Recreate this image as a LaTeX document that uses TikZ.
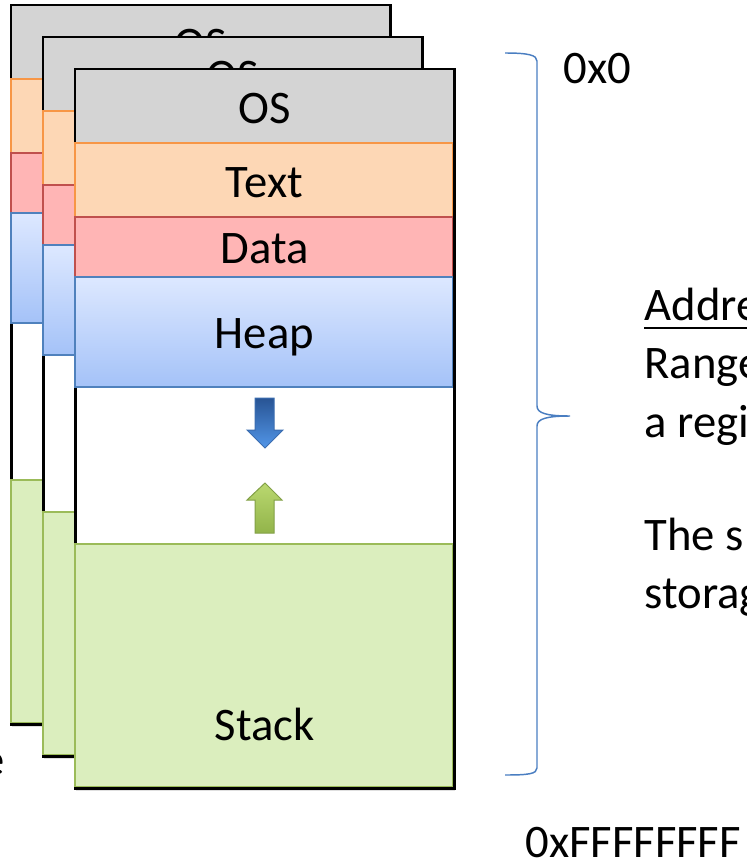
\documentclass[tikz,border=0pt]{standalone}
\usepackage{fontspec}
\setmainfont{Carlito}
\usetikzlibrary{shadows}

\tikzset{every picture/.style={line width=0.75pt}}

\begin{document}
\begin{tikzpicture}[x=0.75pt,y=0.75pt,yscale=-1,xscale=1,
	memframe/.style={draw={rgb, 255:red, 0; green, 0; blue, 0}, line width=2.25pt, fill=white, drop shadow={shadow xshift=0.6pt, shadow yshift=-2.2pt, opacity=0.25}},
	osband/.style={fill={rgb, 255:red, 212; green, 212; blue, 212}},
	textband/.style={draw={rgb, 255:red, 247; green, 150; blue, 70}, fill={rgb, 255:red, 253; green, 215; blue, 181}, line width=1.1pt},
	databand/.style={draw={rgb, 255:red, 192; green, 80; blue, 77}, fill={rgb, 255:red, 255; green, 181; blue, 181}, line width=1.1pt},
	heapband/.style={draw={rgb, 255:red, 79; green, 129; blue, 189}, top color={rgb, 255:red, 221; green, 232; blue, 255}, bottom color={rgb, 255:red, 164; green, 194; blue, 248}, line width=1.1pt},
	stackband/.style={draw={rgb, 255:red, 155; green, 187; blue, 89}, fill={rgb, 255:red, 219; green, 238; blue, 190}, line width=1.1pt},
	seglabel/.style={font=\fontsize{35}{42}\selectfont, anchor=base, inner sep=0pt},
	sidelabel/.style={font=\fontsize{35}{42}\selectfont, anchor=base west, inner sep=0pt}
	]
	\useasboundingbox (0,0) rectangle (746,860);

	%Shape: Rectangle [back frame]
	\draw  [memframe] (11,5) rectangle (390,724) ;
	%Shape: Rectangle
	\fill  [osband] (12.2,6.2) rectangle (388.8,79) ;
	%Shape: Rectangle
	\draw  [textband] (11,79) rectangle (388.5,153) ;
	%Shape: Rectangle
	\draw  [databand] (11,153) rectangle (388.5,213) ;
	%Shape: Rectangle
	\draw  [heapband] (11,213) rectangle (388.5,323) ;
	%Shape: Rectangle
	\draw  [stackband] (11,480) rectangle (388.5,722.5) ;
	% Text Node
	\draw (200.5,59) node [seglabel] (osA) {OS};

	%Shape: Rectangle [middle frame]
	\draw  [memframe] (43,37) rectangle (422,756) ;
	%Shape: Rectangle
	\fill  [osband] (44.2,38.2) rectangle (420.8,111) ;
	%Shape: Rectangle
	\draw  [textband] (43,111) rectangle (420.5,185) ;
	%Shape: Rectangle
	\draw  [databand] (43,185) rectangle (420.5,245) ;
	%Shape: Rectangle
	\draw  [heapband] (43,245) rectangle (420.5,355) ;
	%Shape: Rectangle
	\draw  [stackband] (43,512) rectangle (420.5,754.5) ;
	% Text Node
	\draw (232.5,91) node [seglabel] (osB) {OS};

	%Shape: Rectangle [front frame]
	\draw  [memframe] (75,69) rectangle (454,788) ;
	%Shape: Rectangle
	\fill  [osband] (76.2,70.2) rectangle (452.8,143) ;
	%Shape: Rectangle
	\draw  [textband] (75,143) rectangle (452.5,217) ;
	%Shape: Rectangle
	\draw  [databand] (75,217) rectangle (452.5,277) ;
	%Shape: Rectangle
	\draw  [heapband] (75,277) rectangle (452.5,387) ;
	%Shape: Rectangle
	\draw  [stackband] (75,544) rectangle (452.5,786.5) ;

	%Shape: Down Arrow
	\draw  [draw={rgb, 255:red, 59; green, 109; blue, 176}, top color={rgb, 255:red, 40; green, 84; blue, 148}, bottom color={rgb, 255:red, 82; green, 150; blue, 232}] (255,398) -- (274,398) -- (274,430) -- (283,430) -- (265,448) -- (247,430) -- (255,430) -- cycle ;
	%Shape: Up Arrow
	\draw  [draw={rgb, 255:red, 130; green, 160; blue, 70}, top color={rgb, 255:red, 186; green, 216; blue, 112}, bottom color={rgb, 255:red, 146; green, 180; blue, 74}] (255,533) -- (274,533) -- (274,500) -- (282,500) -- (265,483) -- (247,500) -- (255,500) -- cycle ;

	% Text Node
	\draw (264.5,123) node [seglabel] (osC) {OS};
	% Text Node
	\draw (264.5,197) node [seglabel] (textC) {Text};
	% Text Node
	\draw (264.5,263) node [seglabel] (dataC) {Data};
	% Text Node
	\draw (264.5,348) node [seglabel] (heapC) {Heap};
	% Text Node
	\draw (264.5,740) node [seglabel] (stackC) {Stack};

	%Shape: Brace
	\draw  [draw={rgb, 255:red, 74; green, 126; blue, 193}, line width=1.1pt] (505,53) .. controls (528,53) and (537,55) .. (537,61) -- (537,406) .. controls (537,413) and (546,416) .. (570,416) .. controls (546,416) and (537,419) .. (537,426) -- (537,768) .. controls (537,774) and (528,775) .. (505,775) ;

	% Text Node
	\draw (563,83) node [sidelabel] (lowaddr) {0x0};
	% Text Node
	\draw (644,320) node [sidelabel] (addr) {Addre};
	\draw [line width=1.5pt] (addr.base west) ++(0,8) -- ++(110,0) ;
	% Text Node
	\draw (644,378) node [sidelabel] (range) {Range};
	% Text Node
	\draw (644,437) node [sidelabel] (region) {a regi};
	% Text Node
	\draw (644,550) node [sidelabel] (thes) {The s};
	% Text Node
	\draw (644,608) node [sidelabel] (storage) {storag};
	% Text Node
	\draw (525,857) node [sidelabel] (highaddr) {0xFFFFFFFF};
	% Text Node
	\draw (5,775) node [seglabel, anchor=base east] (cutoff) {e};

\end{tikzpicture}
\end{document}
